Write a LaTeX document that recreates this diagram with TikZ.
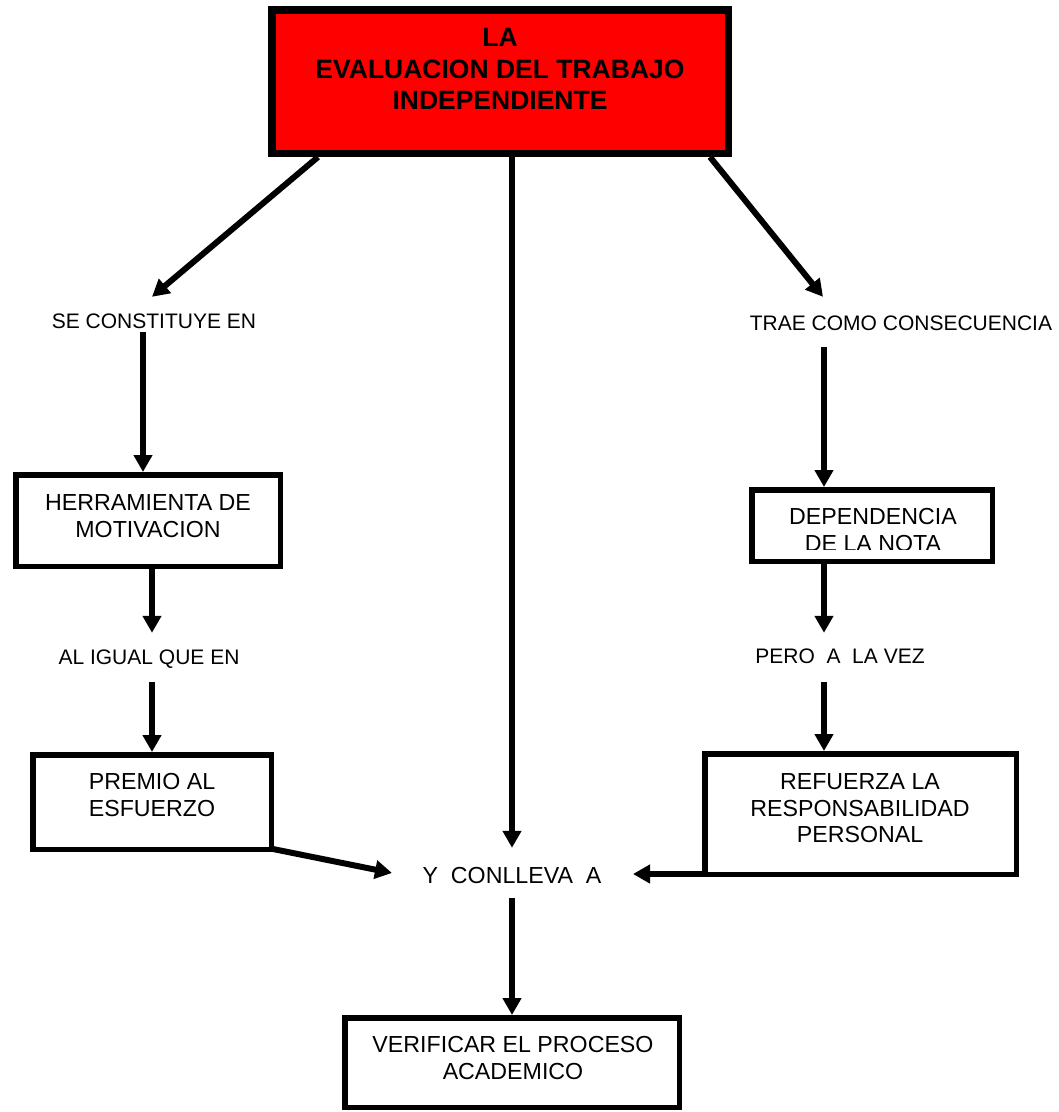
\documentclass[tikz,border=0pt]{standalone}
\usepackage{fontspec}
\setmainfont{Liberation Sans}
\usetikzlibrary{arrows.meta,calc}
\begin{document}
\begin{tikzpicture}[x=1pt,y=-1pt,
  arr/.style={line width=6pt,-{Triangle[length=17pt,width=18pt]}},
  box/.style={draw,line width=5.5pt,inner sep=0pt,rectangle},
  boxtext/.style={font=\fontsize{23.2}{26.7}\selectfont,align=center,anchor=north,inner sep=0pt},
  lbl/.style={font=\fontsize{21}{24}\selectfont,anchor=base,inner sep=0pt,text height=15pt,text depth=0pt}]
\useasboundingbox (0,0) rectangle (1059,1112);

% top box
\node[draw,fill=red,line width=7.5pt,inner sep=0pt,minimum width=456.5pt,minimum height=143.5pt] (top) at (500,81.5) {};
\node[font=\fontsize{26.5}{31.5}\selectfont\bfseries,align=center,anchor=north,inner sep=0pt] (toptext) at (500,28.5) {LA\\EVALUACION DEL TRABAJO\\INDEPENDIENTE};

% labels
\node[lbl] (se) at (154,328) {SE CONSTITUYE EN};
\node[lbl] (trae) at (901,330) {TRAE COMO CONSECUENCIA};
\node[lbl] (ai) at (149,664) {AL IGUAL QUE EN};
\node[lbl] (pero) at (840,663) {PERO\ \ A\ \ LA VEZ};
\node[font=\fontsize{23.2}{26.7}\selectfont,anchor=base,inner sep=0pt,text height=17pt,text depth=0pt] (yc) at (512,883) {Y\ \ CONLLEVA\ \ A};

% boxes
\node[box,minimum width=264.5pt,minimum height=91.5pt] (herr) at (148,520.5) {};
\node[boxtext] (herrtext) at (148,494.5) {HERRAMIENTA DE\\MOTIVACION};

\node[box,minimum width=238.5pt,minimum height=94.5pt] (premio) at (152,802) {};
\node[boxtext] (premiotext) at (152,773.5) {PREMIO AL\\ESFUERZO};

\begin{scope}
\clip (752,490) rectangle (992,549);
\node[boxtext] (deptext) at (873,508.4) {DEPENDENCIA\\DE LA NOTA};
\end{scope}
\node[box,minimum width=240.5pt,minimum height=71.5pt] (dep) at (872,525.5) {};

\node[box,minimum width=311.5pt,minimum height=120.5pt] (ref) at (860.5,814) {};
\node[boxtext] (reftext) at (860,773.4) {REFUERZA LA\\RESPONSABILIDAD\\PERSONAL};

\node[box,minimum width=334.5pt,minimum height=89.5pt] (verif) at (512,1062.5) {};
\node[boxtext] (veriftext) at (513,1036.4) {VERIFICAR EL PROCESO\\ACADEMICO};

% connectors
\draw[arr] ($(top.south west)+(50,0)$) -- ($(se.north)+(-2,-16)$);
\draw[arr] ($(top.south)+(12,0)$) -- ($(yc.north)+(0,-18)$);
\draw[arr] ($(top.south east)+(-22,0)$) -- ($(trae.north)+(-78,-18)$);

\draw[arr] ($(se.south)+(-11,4)$) -- ($(herr.north)+(-5,0)$);
\draw[arr] ($(herr.south)+(4,0)$) -- ($(ai.north)+(3,-16)$);
\draw[arr] ($(ai.south)+(3,18)$) -- (premio.north);
\draw[arr] ($(premio.south east)+(-1,-3)$) -- ($(yc.center)+(-120,-1.5)$);

\draw[arr] ($(trae.south)+(-77,17)$) -- ($(dep.north)+(-48,0)$);
\draw[arr] ($(dep.south)+(-48,0)$) -- ($(pero.north)+(-16,-15)$);
\draw[arr] ($(pero.south)+(-16,19)$) -- ($(ref.north)+(-36.5,0)$);
\draw[arr] ($(ref.south west)+(3,-3)$) -- ($(yc.center)+(121,-0.5)$);

\draw[arr] ($(yc.south)+(0,15)$) -- (verif.north);
\end{tikzpicture}
\end{document}
